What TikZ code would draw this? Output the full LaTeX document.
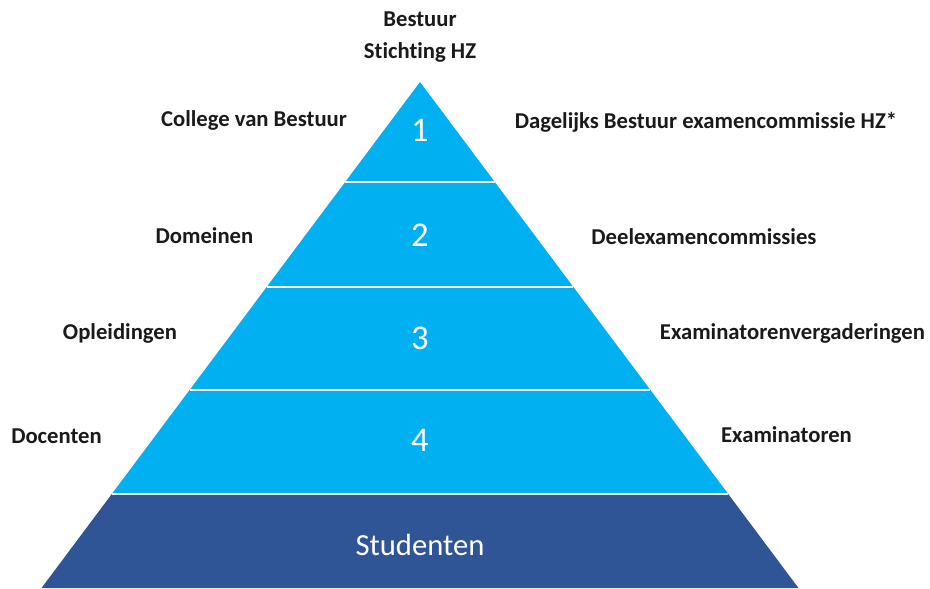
\documentclass[tikz,border=0pt]{standalone}
\usepackage{fontspec}
\setmainfont[Ligatures = NoCommon]{Carlito}
\definecolor{bandblue}{HTML}{00B0F0}
\definecolor{baseblue}{HTML}{2F5597}
\definecolor{labelgray}{HTML}{1A1A1A}

\begin{document}
\begin{tikzpicture}[x = 0.75pt, y = -0.75pt,
        label/.style = {text = labelgray, font = \bfseries\fontsize{17}{22}\selectfont, align = center, inner sep = 0pt},
        level/.style = {text = white, font = \fontsize{26}{30}\selectfont, inner sep = 0pt},
        sep/.style = {white, line width = 2.2pt}]
        \useasboundingbox (0, 0) rectangle (930, 588);

        % Corners
        \coordinate (top) at (420, 82);
        \coordinate (l1) at (345.2, 182);
        \coordinate (r1) at (494.8, 182);
        \coordinate (l2) at (266.7, 287);
        \coordinate (r2) at (573.3, 287);
        \coordinate (l3) at (189.6, 390);
        \coordinate (r3) at (650.4, 390);
        \coordinate (l4) at (111.8, 494);
        \coordinate (r4) at (728.2, 494);
        \coordinate (l5) at (41.5, 588);
        \coordinate (r5) at (798.5, 588);

        % Bands
        \fill [bandblue] (top) -- (r4) -- (l4) -- cycle;
        \fill [baseblue] (l4) -- (r4) -- (r5) -- (l5) -- cycle;

        % Lines
        \draw [sep] (l1) -- (r1);
        \draw [sep] (l2) -- (r2);
        \draw [sep] (l3) -- (r3);
        \draw [sep] (l4) -- (r4);

        % Levels
        \node [level] (n1) at (420, 130) {1};
        \node [level] (n2) at (420, 235) {2};
        \node [level] (n3) at (420, 338) {3};
        \node [level] (n4) at (420, 440) {4};
        \node [level, font = \fontsize{23}{28}\selectfont] (stud) at (420, 545) {Studenten};

        % Labels
        \node [label] (bestuur) at (420, 37) {Bestuur\\[2pt]Stichting HZ};
        \node [label] (cvb) at (254, 120) {College van Bestuur};
        \node [label] (dagelijks) at (706, 122) {Dagelijks Bestuur examencommissie HZ*};
        \node [label] (domeinen) at (204.5, 236) {Domeinen};
        \node [label] (deelexamen) at (704, 237) {Deelexamencommissies};
        \node [label] (opleidingen) at (120, 333) {Opleidingen};
        \node [label] (vergaderingen) at (792.5, 333) {Examinatorenvergaderingen};
        \node [label] (docenten) at (56.5, 436) {Docenten};
        \node [label] (examinatoren) at (786.5, 435) {Examinatoren};

    \end{tikzpicture}
\end{document}
